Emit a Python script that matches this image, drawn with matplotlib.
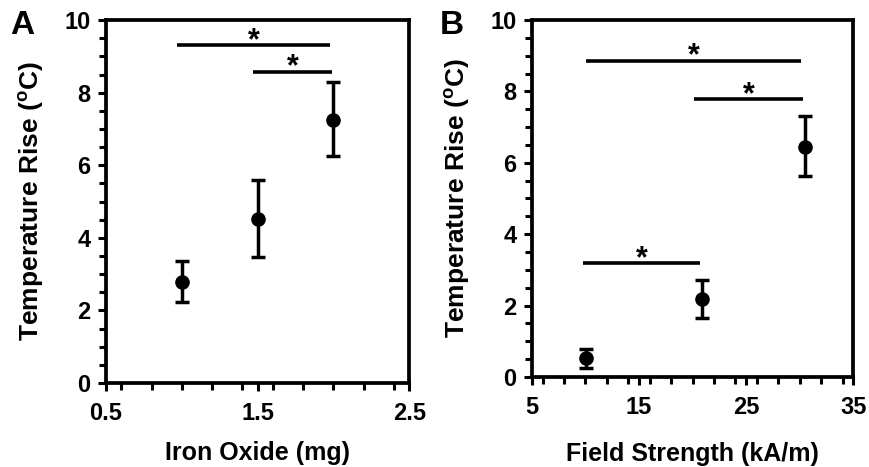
import matplotlib
matplotlib.use('Agg')
import matplotlib.pyplot as plt
from matplotlib.ticker import MultipleLocator

plt.rcParams['font.family'] = 'Liberation Sans'
plt.rcParams['font.weight'] = 'bold'
plt.rcParams['mathtext.fontset'] = 'custom'
plt.rcParams['mathtext.rm'] = 'Liberation Sans:bold'

# panel A: iron oxide dose
iron_mg = [1.0, 1.5, 2.0]
rise_a = [2.77, 4.52, 7.26]
err_a_up = [0.58, 1.08, 1.02]
err_a_lo = [0.55, 1.05, 1.0]
sig_a = [(0.97, 1.98, 9.3), (1.47, 1.99, 8.58)]

# panel B: field strength
field_kam = [10.1, 20.9, 30.5]
rise_b = [0.52, 2.18, 6.45]
err_b_up = [0.26, 0.54, 0.86]
err_b_lo = [0.27, 0.53, 0.83]
sig_b = [(10.1, 30.1, 8.86), (20.1, 30.3, 7.78), (9.8, 20.7, 3.18)]

ylab = 'Temperature Rise ($^{\\mathrm{o}}$C)'

fig = plt.figure(figsize=(8.69, 4.67), dpi=100)
ax1 = fig.add_axes([0.122, 0.18, 0.349, 0.777])
ax2 = fig.add_axes([0.612, 0.193, 0.37, 0.764])


def style(ax):
    for s in ax.spines.values():
        s.set_linewidth(2.7)
    ax.tick_params(which='both', direction='out', width=2.2, labelsize=17)
    ax.tick_params(axis='x', pad=8)
    ax.tick_params(axis='y', pad=5)
    ax.tick_params(which='major', length=6)
    ax.tick_params(which='minor', length=5)
    ax.set_ylim(0, 10)
    ax.yaxis.set_major_locator(MultipleLocator(2))
    ax.yaxis.set_minor_locator(MultipleLocator(0.5))
    ax.set_ylabel(ylab, fontsize=19, fontweight='bold', labelpad=13)


def sig(ax, bars):
    for x0, x1, y in bars:
        ax.plot([x0, x1], [y, y], color='black', lw=2.6, solid_capstyle='butt')
        ax.text((x0 + x1) / 2, y + 0.12, '*', ha='center', va='center',
                fontsize=22, fontweight='bold')


ax1.errorbar(iron_mg, rise_a, yerr=[err_a_lo, err_a_up], fmt='o', color='black',
             ms=9.5, elinewidth=2.5, capsize=5, capthick=2.5)
ax1.set_xlim(0.5, 2.5)
ax1.set_xticks([0.5, 1.5, 2.5])
ax1.set_xticklabels(['0.5', '1.5', '2.5'])
ax1.xaxis.set_minor_locator(MultipleLocator(0.2))
ax1.set_xlabel('Iron Oxide (mg)', fontsize=18, fontweight='bold', labelpad=11)
style(ax1)
sig(ax1, sig_a)

ax2.errorbar(field_kam, rise_b, yerr=[err_b_lo, err_b_up], fmt='o', color='black',
             ms=9.5, elinewidth=2.5, capsize=5, capthick=2.5)
ax2.set_xlim(5, 35)
ax2.set_xticks([5, 15, 25, 35])
ax2.xaxis.set_minor_locator(MultipleLocator(2))
ax2.set_xlabel('Field Strength (kA/m)', fontsize=18, fontweight='bold', labelpad=16)
style(ax2)
sig(ax2, sig_b)

fig.text(0.012, 0.945, 'A', fontsize=24, fontweight='bold', va='center')
fig.text(0.506, 0.945, 'B', fontsize=24, fontweight='bold', va='center')

fig.savefig('out.png', dpi=100)
